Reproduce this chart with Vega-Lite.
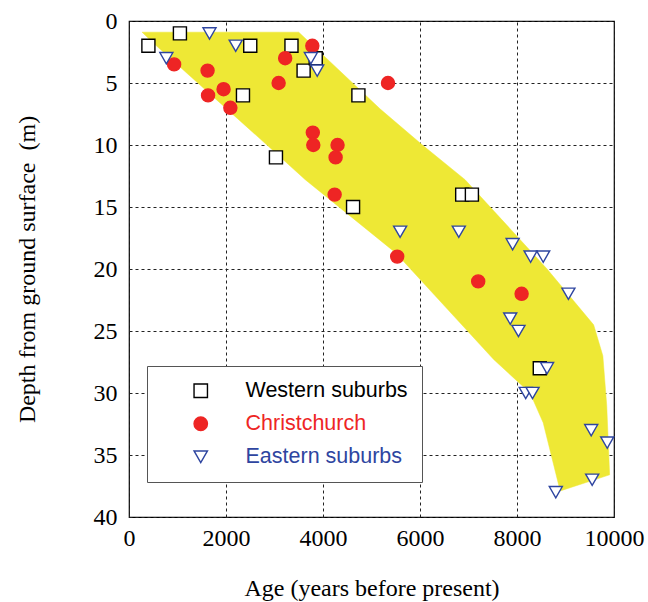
{
  "$schema": "https://vega.github.io/schema/vega-lite/v6.json",
  "autosize": {"type": "none"},
  "padding": {"left": 129, "top": 21, "right": 34, "bottom": 85},
  "width": 485,
  "height": 496,
  "background": "white",
  "config": {
    "view": {"stroke": "black", "strokeWidth": 1.2},
    "axis": {
      "labelFont": "Liberation Serif", "labelFontSize": 24, "labelColor": "black",
      "titleFont": "Liberation Serif", "titleFontSize": 24, "titleFontWeight": "normal", "titleColor": "black",
      "domain": false, "ticks": false,
      "grid": true, "gridColor": "#222", "gridDash": [3, 3], "gridWidth": 1, "gridOpacity": 1,
      "labelFlush": false, "labelOverlap": false, "zindex": 1
    },
    "legend": {
      "orient": "none", "legendX": 18, "legendY": 345,
      "strokeColor": "#555", "fillColor": "white", "padding": 14, "rowPadding": 10,
      "symbolOffset": 29, "labelOffset": 34, "labelFontSize": 21.5, "labelFont": "Liberation Sans",
      "labelLimit": 400, "symbolSize": 180, "symbolStrokeWidth": 1.4
    }
  },
  "datasets": {
    "band": [
      {"i": 0, "age": 270, "depth": 0.9},
      {"i": 1, "age": 3500, "depth": 0.9},
      {"i": 2, "age": 5180, "depth": 7.1},
      {"i": 3, "age": 6050, "depth": 10},
      {"i": 4, "age": 6930, "depth": 12.8},
      {"i": 5, "age": 8620, "depth": 20},
      {"i": 6, "age": 9580, "depth": 24.5},
      {"i": 7, "age": 9770, "depth": 27},
      {"i": 8, "age": 9850, "depth": 31},
      {"i": 9, "age": 9910, "depth": 36.6},
      {"i": 10, "age": 8890, "depth": 37.9},
      {"i": 11, "age": 8540, "depth": 32.4},
      {"i": 12, "age": 8270, "depth": 30},
      {"i": 13, "age": 7520, "depth": 27.3},
      {"i": 14, "age": 5500, "depth": 18.7},
      {"i": 15, "age": 3635, "depth": 12.8},
      {"i": 16, "age": 2845, "depth": 10},
      {"i": 17, "age": 507, "depth": 1.8},
      {"i": 18, "age": 270, "depth": 0.9}
    ],
    "pts": [
      {"site": "Western suburbs", "age": 400, "depth": 2},
      {"site": "Western suburbs", "age": 1050, "depth": 1},
      {"site": "Western suburbs", "age": 2500, "depth": 2},
      {"site": "Western suburbs", "age": 3350, "depth": 2},
      {"site": "Western suburbs", "age": 3600, "depth": 4},
      {"site": "Western suburbs", "age": 3850, "depth": 3},
      {"site": "Western suburbs", "age": 2350, "depth": 6},
      {"site": "Western suburbs", "age": 4730, "depth": 6},
      {"site": "Western suburbs", "age": 3030, "depth": 11},
      {"site": "Western suburbs", "age": 4620, "depth": 15},
      {"site": "Western suburbs", "age": 6870, "depth": 14},
      {"site": "Western suburbs", "age": 7070, "depth": 14},
      {"site": "Western suburbs", "age": 8470, "depth": 28},
      {"site": "Christchurch", "age": 3780, "depth": 2},
      {"site": "Christchurch", "age": 3220, "depth": 3},
      {"site": "Christchurch", "age": 930, "depth": 3.5},
      {"site": "Christchurch", "age": 1620, "depth": 4},
      {"site": "Christchurch", "age": 3085, "depth": 5},
      {"site": "Christchurch", "age": 5340, "depth": 5},
      {"site": "Christchurch", "age": 1950, "depth": 5.5},
      {"site": "Christchurch", "age": 1630, "depth": 6},
      {"site": "Christchurch", "age": 2090, "depth": 7},
      {"site": "Christchurch", "age": 3790, "depth": 9},
      {"site": "Christchurch", "age": 3800, "depth": 10},
      {"site": "Christchurch", "age": 4300, "depth": 10},
      {"site": "Christchurch", "age": 4260, "depth": 11},
      {"site": "Christchurch", "age": 4240, "depth": 14},
      {"site": "Christchurch", "age": 5530, "depth": 19},
      {"site": "Christchurch", "age": 7200, "depth": 21},
      {"site": "Christchurch", "age": 8095, "depth": 22},
      {"site": "Eastern suburbs", "age": 1660, "depth": 1},
      {"site": "Eastern suburbs", "age": 770, "depth": 3},
      {"site": "Eastern suburbs", "age": 2200, "depth": 2},
      {"site": "Eastern suburbs", "age": 3750, "depth": 3},
      {"site": "Eastern suburbs", "age": 3880, "depth": 4},
      {"site": "Eastern suburbs", "age": 5590, "depth": 17},
      {"site": "Eastern suburbs", "age": 6800, "depth": 17},
      {"site": "Eastern suburbs", "age": 7910, "depth": 18},
      {"site": "Eastern suburbs", "age": 8280, "depth": 19},
      {"site": "Eastern suburbs", "age": 8540, "depth": 19},
      {"site": "Eastern suburbs", "age": 9060, "depth": 22},
      {"site": "Eastern suburbs", "age": 7860, "depth": 24},
      {"site": "Eastern suburbs", "age": 8030, "depth": 25},
      {"site": "Eastern suburbs", "age": 8620, "depth": 28},
      {"site": "Eastern suburbs", "age": 8180, "depth": 30},
      {"site": "Eastern suburbs", "age": 8320, "depth": 30},
      {"site": "Eastern suburbs", "age": 9530, "depth": 33},
      {"site": "Eastern suburbs", "age": 9860, "depth": 34},
      {"site": "Eastern suburbs", "age": 9550, "depth": 37},
      {"site": "Eastern suburbs", "age": 8800, "depth": 38}
    ]
  },
  "encoding": {
    "x": {
      "field": "age", "type": "quantitative",
      "scale": {"domain": [0, 10000], "nice": false, "zero": false},
      "axis": {"title": "Age (years before present)", "values": [0, 2000, 4000, 6000, 8000, 10000], "format": "d", "labelPadding": 9, "titlePadding": 26}
    },
    "y": {
      "field": "depth", "type": "quantitative",
      "scale": {"domain": [0, 40], "nice": false, "zero": false, "reverse": true},
      "axis": {"title": "Depth from ground surface\u00a0 (m)", "values": [0, 5, 10, 15, 20, 25, 30, 35, 40], "format": "d", "labelPadding": 12, "titlePadding": 54}
    }
  },
  "layer": [
    {
      "data": {"name": "band"},
      "mark": {"type": "line", "fill": "#EEE835", "stroke": "#EEE835", "strokeWidth": 0.5, "zindex": 0},
      "encoding": {"order": {"field": "i", "type": "quantitative"}}
    },
    {
      "data": {"name": "pts"},
      "mark": {"type": "point", "size": 170, "strokeWidth": 1.4, "opacity": 1, "filled": false, "zindex": 2},
      "encoding": {
        "shape": {
          "field": "site", "type": "nominal",
          "scale": {"domain": ["Western suburbs", "Christchurch", "Eastern suburbs"], "range": ["square", "circle", "triangle-down"]},
          "legend": {
            "title": null,
            "labelColor": {"expr": "datum.value === 'Christchurch' ? '#EE2524' : datum.value === 'Eastern suburbs' ? '#2E45A0' : 'black'"}
          }
        },
        "fill": {
          "field": "site", "type": "nominal",
          "scale": {"domain": ["Western suburbs", "Christchurch", "Eastern suburbs"], "range": ["white", "#EE2524", "white"]},
          "legend": {
            "title": null,
            "labelColor": {"expr": "datum.value === 'Christchurch' ? '#EE2524' : datum.value === 'Eastern suburbs' ? '#2E45A0' : 'black'"}
          }
        },
        "stroke": {
          "field": "site", "type": "nominal",
          "scale": {"domain": ["Western suburbs", "Christchurch", "Eastern suburbs"], "range": ["black", "#EE2524", "#2E45A0"]},
          "legend": {
            "title": null,
            "labelColor": {"expr": "datum.value === 'Christchurch' ? '#EE2524' : datum.value === 'Eastern suburbs' ? '#2E45A0' : 'black'"}
          }
        }
      }
    }
  ]
}
